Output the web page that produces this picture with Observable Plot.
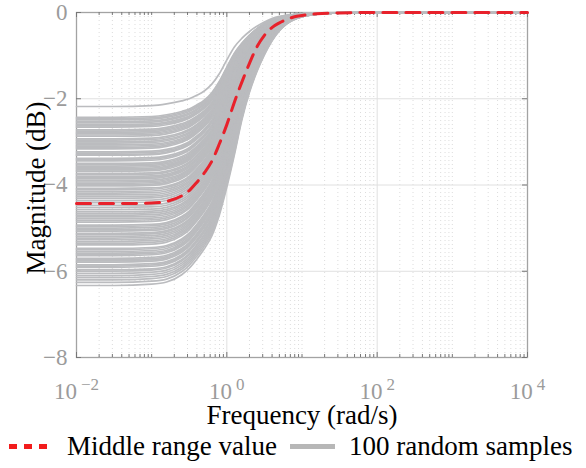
<!DOCTYPE html>
<html><head><meta charset="utf-8">
<script src="https://cdn.jsdelivr.net/npm/d3@7"></script>
<script src="https://cdn.jsdelivr.net/npm/@observablehq/plot@0.6"></script>
<style>
body{margin:0;background:#fff;}
#wrap{position:relative;width:586px;height:468px;font-family:"Liberation Serif","Times New Roman",serif;color:#000;}
#wrap svg text{font-family:"Liberation Serif","Times New Roman",serif !important;}
.lt{position:absolute;font-size:27px;line-height:38px;white-space:nowrap;}
</style></head><body><div id="wrap"></div>
<script>
// Frequencies (rad/s) at which the curves were read
const freq = [0.01, 0.0316, 0.1, 0.158, 0.251, 0.316, 0.398, 0.501, 0.631, 0.794, 1, 1.26, 1.58, 2.0, 2.51, 3.16, 3.98, 5.01, 6.31, 7.94, 10, 15.8, 31.6, 100, 1000, 10000];
// Upper-most sample curve (dB)
const topCurve = [-2.18, -2.18, -2.16, -2.12, -2.05, -2.00, -1.92, -1.82, -1.66, -1.42, -1.10, -0.80, -0.60, -0.44, -0.32, -0.22, -0.14, -0.09, -0.06, -0.04, -0.025, -0.01, -0.004, 0, 0, 0];
// Middle range value (red dashed, dB)
const midCurve = [-4.43, -4.43, -4.42, -4.38, -4.25, -4.13, -3.94, -3.72, -3.45, -3.05, -2.60, -2.08, -1.62, -1.18, -0.80, -0.53, -0.35, -0.24, -0.16, -0.10, -0.07, -0.03, -0.01, 0, 0, 0];
// Lowest sample curve (dB)
const bottomCurve = [-6.33, -6.33, -6.30, -6.25, -6.08, -5.93, -5.72, -5.48, -5.18, -4.70, -4.05, -3.30, -2.50, -1.85, -1.37, -0.98, -0.66, -0.42, -0.26, -0.16, -0.10, -0.04, -0.01, 0, 0, 0];
// Low-frequency level of each of the 100 random samples (dB)
const sampleLevels = [
 -2.18, -2.43, -2.46, -2.49, -2.53, -2.56, -2.60, -2.63, -2.66, -2.72,
 -2.75, -2.78, -2.81, -2.84, -2.87, -2.93, -2.96, -3.00, -3.03, -3.07,
 -3.10, -3.13, -3.16, -3.23, -3.26, -3.29, -3.31, -3.38, -3.41, -3.44,
 -3.50, -3.53, -3.56, -3.59, -3.62, -3.65, -3.68, -3.73, -3.76, -3.80,
 -3.83, -3.86, -3.90, -3.93, -3.96, -3.99, -4.02, -4.08, -4.11, -4.15,
 -4.19, -4.23, -4.27, -4.31, -4.36, -4.41, -4.47, -4.52, -4.57, -4.62,
 -4.66, -4.70, -4.74, -4.78, -4.82, -4.86, -4.93, -4.96, -5.00, -5.04,
 -5.07, -5.12, -5.15, -5.19, -5.23, -5.27, -5.31, -5.35, -5.39, -5.47,
 -5.50, -5.54, -5.58, -5.61, -5.64, -5.70, -5.73, -5.76, -5.79, -5.85,
 -5.88, -5.91, -5.97, -6.00, -6.05, -6.10, -6.15, -6.20, -6.26, -6.33];
const xTicks = [1e-2, 1e0, 1e2, 1e4];
const yTicks = [-8, -6, -4, -2, 0];
const xLabel = "Frequency (rad/s)";
const yLabel = "Magnitude (dB)";
const legendLabels = ["Middle range value", "100 random samples"];

const serif = '"Liberation Serif","Times New Roman",serif';

// Build each sample's curve from the read reference profiles
const grayRows = [];
sampleLevels.forEach((L, id) => {
  const t0 = topCurve[0], m0 = midCurve[0], b0 = bottomCurve[0];
  freq.forEach((f, i) => {
    let db;
    if (L >= m0) { const t = (L - t0) / (m0 - t0); db = topCurve[i] + t * (midCurve[i] - topCurve[i]); }
    else { const t = (L - m0) / (b0 - m0); db = midCurve[i] + t * (bottomCurve[i] - midCurve[i]); }
    grayRows.push({f, db, id});
  });
});
const midRows = freq.map((f, i) => ({f, db: midCurve[i]}));

// minor grid positions: 2..9 x 10^k and the odd decades
const minorGrid = [];
for (let k = -2; k < 4; k++) for (let m = 2; m <= 9; m++) minorGrid.push(m * 10 ** k);
for (let k = -1; k < 4; k += 2) minorGrid.push(10 ** k);
const yGrid = [-6, -4, -2];

const pxX = 75.17, pxY = 43.15;
const tickLenX = (px) => Math.pow(10, px / pxX);

const svg = Plot.plot({
  width: 586, height: 430,
  marginLeft: 76, marginRight: 59, marginTop: 12, marginBottom: 73,
  x: {type: "log", domain: [1e-2, 1e4]},
  y: {domain: [-8, 0]},
  style: {fontFamily: serif, background: "white", overflow: "visible"},
  marks: [
    Plot.ruleX(minorGrid, {x: d => d, stroke: "#dcdcdc", strokeDasharray: "1,3"}),
    Plot.ruleX([1e0, 1e2], {x: d => d, stroke: "#e0e0e0"}),
    Plot.ruleY(yGrid, {y: d => d, stroke: "#e0e0e0"}),
    Plot.frame({stroke: "#a3a3a3", strokeWidth: 1.3}),
    // inward ticks
    Plot.ruleX(minorGrid, {x: d => d, y1: -8, y2: -8 + 3 / pxY, stroke: "#777"}),
    Plot.ruleX(minorGrid, {x: d => d, y1: 0, y2: -3 / pxY, stroke: "#777"}),
    Plot.ruleX(xTicks, {x: d => d, y1: -8, y2: -8 + 5 / pxY, stroke: "#777"}),
    Plot.ruleX(xTicks, {x: d => d, y1: 0, y2: -5 / pxY, stroke: "#777"}),
    Plot.ruleY(yTicks, {y: d => d, x1: 1e-2, x2: 1e-2 * tickLenX(5), stroke: "#777"}),
    Plot.ruleY(yTicks, {y: d => d, x1: 1e4, x2: 1e4 / tickLenX(5), stroke: "#777"}),
    Plot.line(grayRows, {x: "f", y: "db", z: "id", stroke: "#bbbcbf", strokeWidth: 1.7, curve: "monotone-x"}),
    Plot.line(midRows, {x: "f", y: "db", stroke: "#e8212b", strokeWidth: 3, strokeDasharray: "14,9", curve: "monotone-x"}),
    Plot.axisX({ticks: xTicks, tickSize: 0, tickPadding: 25, fontSize: 23, color: "#9b9b9b", label: null, fontFamily: serif,
      tickFormat: d => "10^" + String(Math.round(Math.log10(d))).replace("-", "\u2212")}),
    Plot.axisY({ticks: yTicks, tickSize: 0, tickPadding: 9, fontSize: 23, color: "#9b9b9b", label: null, fontFamily: serif,
      tickFormat: d => d === 0 ? "0" : "\u2212" + Math.abs(d)}),
    Plot.text([xLabel], {text: d => d, frameAnchor: "bottom", dy: 66, lineAnchor: "bottom", fontSize: 27, fill: "black", fontFamily: serif}),
    Plot.text([yLabel], {text: d => d, frameAnchor: "left", textAnchor: "middle", dx: -40, dy: 3, rotate: -90, fontSize: 27, fill: "black", fontFamily: serif})
  ]
});

const s3 = d3.select(svg);
s3.selectAll('g[aria-label="x-axis tick label"] text').each(function () {
  const s = this.textContent;
  const [b, e] = s.split("^");
  const t = d3.select(this);
  t.selectAll("*").remove();
  t.text(null);
  t.append("tspan").text(b);
  t.append("tspan").attr("dy", "-0.5em").attr("dx", "4").attr("font-size", "17px").text(e);
});
s3.selectAll("text").attr("font-family", serif).style("font-family", serif);

const wrap = document.getElementById("wrap");
wrap.appendChild(svg);
svg.style.position = "absolute"; svg.style.left = "0"; svg.style.top = "0";

// legend
const leg = [
  `<div style="position:absolute;left:9px;top:444px;width:39px;height:5px;background:repeating-linear-gradient(90deg,#f21c1c 0 8px,transparent 8px 15px)"></div>`,
  `<div class="lt" style="left:67px;top:427px">${legendLabels[0]}</div>`,
  `<div style="position:absolute;left:290px;top:444px;width:45px;height:5px;background:#b7b7b7"></div>`,
  `<div class="lt" style="left:349px;top:427px">${legendLabels[1]}</div>`
].join("");
wrap.insertAdjacentHTML("beforeend", leg);
</script></body></html>
